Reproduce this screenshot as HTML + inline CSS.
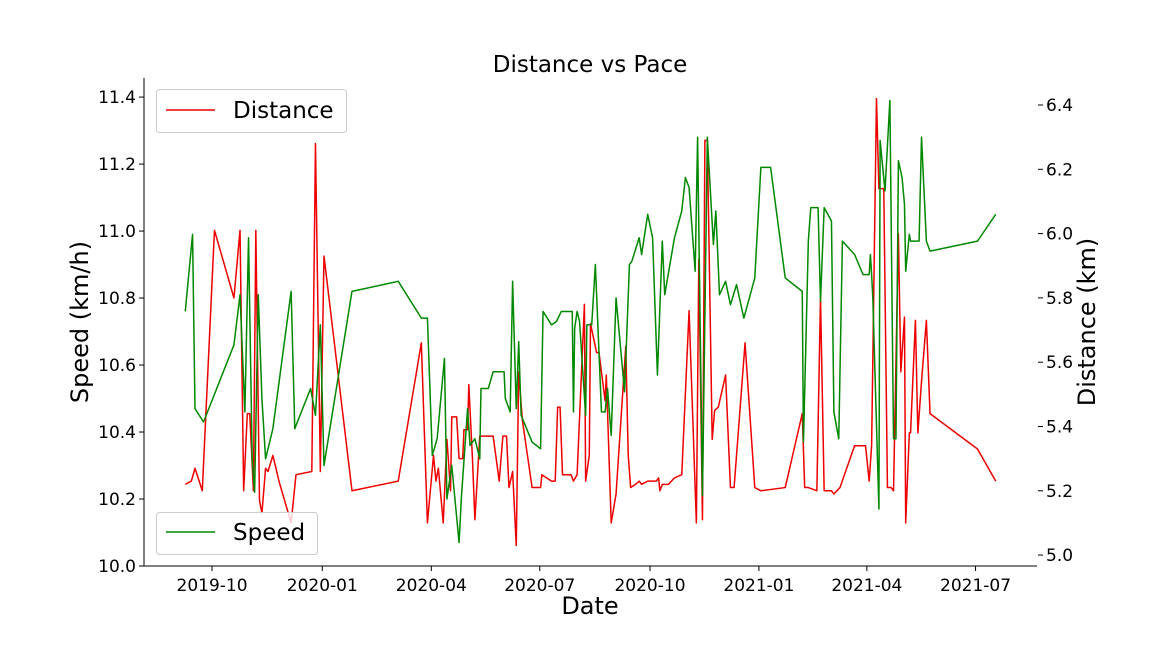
<!DOCTYPE html>
<html><head><meta charset="utf-8"><style>
body{margin:0;background:#fff}
svg text{font-family:"DejaVu Sans","Liberation Sans",sans-serif}
</style></head><body>
<svg id="c" width="1152" height="648" xmlns="http://www.w3.org/2000/svg">
<text x="590" y="72" font-size="23" text-anchor="middle">Distance vs Pace</text>
<text x="590" y="614" font-size="24" text-anchor="middle">Date</text>
<text transform="translate(88,322) rotate(-90)" font-size="24" text-anchor="middle">Speed (km/h)</text>
<text transform="translate(1095,322) rotate(-90)" font-size="24" text-anchor="middle">Distance (km)</text>
<g id="axes"></g>
<g id="series"></g>
<g>
<rect x="156.5" y="89.5" width="190" height="43" rx="3" fill="#fff" fill-opacity="0.8" stroke="#ccc"/>
<line x1="166" y1="110" x2="215" y2="110" stroke="#e00" stroke-width="1.5"/>
<text x="233" y="118" font-size="23">Distance</text>
</g>
<g>
<rect x="156.5" y="512.5" width="161" height="42" rx="3" fill="#fff" fill-opacity="0.8" stroke="#ccc"/>
<line x1="166" y1="532" x2="215" y2="532" stroke="#080" stroke-width="1.5"/>
<text x="233" y="540" font-size="23">Speed</text>
</g>
</svg>
<script>
const speedDays=[-22,-16,-14,-7,18,23,27,30,33,35,38,41,44,50,65,68,81,85,89,92,115,153,172,177,181,185,191,193,197,203,205,210,212,216,220,221,227,231,240,241,245,247,250,252,254,263,270,272,279,283,287,296,297,298,300,302,307,308,312,315,320,323,325,328,332,339,343,345,351,353,358,362,366,370,372,380,386,389,392,397,399,403,407,412,414,417,422,426,431,437,446,451,459,471,485,486,490,492,498,500,503,509,511,515,518,528,535,540,541,542,543,548,549,553,557,560,562,564,567,569,570,573,574,581,583,587,590,629,644];
const speedValues=[10.76,10.99,10.47,10.43,10.66,10.81,10.46,10.98,10.32,10.22,10.81,10.50,10.32,10.41,10.82,10.41,10.53,10.45,10.72,10.30,10.82,10.85,10.74,10.74,10.33,10.38,10.62,10.20,10.30,10.07,10.21,10.47,10.36,10.38,10.32,10.53,10.53,10.58,10.58,10.50,10.46,10.85,10.47,10.67,10.45,10.37,10.35,10.76,10.72,10.73,10.76,10.76,10.46,10.71,10.76,10.73,10.45,10.72,10.72,10.90,10.46,10.46,10.53,10.39,10.80,10.52,10.90,10.91,10.98,10.93,11.05,10.98,10.57,10.97,10.81,10.98,11.06,11.16,11.13,10.88,11.28,10.21,11.28,10.96,11.06,10.81,10.85,10.78,10.84,10.74,10.86,11.19,11.19,10.86,10.82,10.37,10.97,11.07,11.07,10.79,11.07,11.03,10.46,10.38,10.97,10.93,10.87,10.87,10.93,10.87,10.80,10.17,11.27,11.12,11.39,10.38,10.38,11.21,11.16,11.08,10.88,10.99,10.97,10.97,11.28,10.97,10.94,10.97,11.05];
const distDays=[-22,-17,-14,-8,2,18,23,26,29,31,34,36,39,41,44,46,50,55,65,69,82,85,89,92,115,153,172,177,182,184,186,190,193,196,197,201,203,206,207,210,211,214,216,220,223,231,236,239,242,244,247,250,252,255,263,270,271,279,282,284,286,288,295,297,300,306,307,310,311,316,318,323,324,328,332,340,342,344,348,351,353,358,361,365,367,368,370,371,375,380,386,392,398,400,403,405,407,411,413,416,422,426,429,438,446,451,471,485,487,490,497,500,503,509,511,516,528,537,540,542,546,548,552,555,558,560,564,566,569,570,573,574,578,580,583,587,590,629,644];
const distValues=[5.22,5.23,5.27,5.20,6.01,5.80,6.01,5.20,5.44,5.44,5.20,6.01,5.17,5.13,5.27,5.26,5.31,5.23,5.10,5.25,5.26,6.28,5.26,5.93,5.20,5.23,5.66,5.10,5.31,5.23,5.27,5.10,5.36,5.20,5.43,5.43,5.30,5.30,5.39,5.39,5.53,5.30,5.11,5.37,5.37,5.37,5.23,5.37,5.37,5.21,5.26,5.03,5.57,5.42,5.21,5.21,5.25,5.23,5.23,5.46,5.46,5.25,5.25,5.23,5.25,5.78,5.23,5.31,5.72,5.63,5.63,5.48,5.56,5.10,5.19,5.65,5.31,5.21,5.22,5.23,5.22,5.23,5.23,5.23,5.24,5.20,5.22,5.22,5.22,5.24,5.25,5.76,5.10,5.92,5.11,6.29,6.29,5.36,5.45,5.46,5.56,5.21,5.21,5.66,5.21,5.20,5.21,5.44,5.21,5.21,5.20,5.80,5.20,5.20,5.19,5.21,5.34,5.34,5.23,5.34,6.42,6.14,6.14,5.21,5.21,5.20,6.00,5.57,5.74,5.10,5.38,5.38,5.73,5.38,5.54,5.73,5.44,5.33,5.23];
const xTickDays=[0,90.6,180.2,269.3,359.9,449.4,538.1,627.4];
const xTickLabels=["2019-10","2020-01","2020-04","2020-07","2020-10","2021-01","2021-04","2021-07"];
const leftTicks=[10.0,10.2,10.4,10.6,10.8,11.0,11.2,11.4];
const rightTicks=[5.0,5.2,5.4,5.6,5.8,6.0,6.2,6.4];

const NS="http://www.w3.org/2000/svg";
const L=144,R=1037,T=78,B=566;
const X=d=>L+(d-(-55.9))/(677.9-(-55.9))*(R-L);
const YL=v=>B-(v-10)/(11.457-10)*(B-T);
const YR=v=>B-(v-4.966)/(6.484-4.966)*(B-T);
function mk(tag,attrs,parent){const e=document.createElementNS(NS,tag);for(const k in attrs)e.setAttribute(k,attrs[k]);parent.appendChild(e);return e;}
const ax=document.getElementById('axes'),se=document.getElementById('series');
let e=mk('line',{x1:L,y1:T,x2:L,y2:B,stroke:'#000','stroke-width':1},ax);


e=mk('line',{x1:L,y1:B,x2:R,y2:B,stroke:'#000','stroke-width':1},ax);


xTickDays.forEach((d,i)=>{const x=X(d);
 mk('line',{x1:x,y1:B,x2:x,y2:B+5,stroke:'#000'},ax);
 const t=mk('text',{x:x,y:B+25,'font-size':17,'text-anchor':'middle'},ax);t.textContent=xTickLabels[i];
 
 });
leftTicks.forEach(v=>{const y=YL(v);
 mk('line',{x1:L-5,y1:y,x2:L,y2:y,stroke:'#000'},ax);
 const t=mk('text',{x:L-8,y:y+6,'font-size':17,'text-anchor':'end'},ax);t.textContent=v.toFixed(1);
 
 });
rightTicks.forEach(v=>{const y=YR(v);
 mk('line',{x1:1038,y1:y,x2:1043,y2:y,stroke:'#000'},ax);
 const t=mk('text',{x:1046,y:y+6,'font-size':17,'text-anchor':'start'},ax);t.textContent=v.toFixed(1);
 
 });
let p=mk('polyline',{points:distDays.map((d,i)=>X(d)+','+YR(distValues[i])).join(' '),fill:'none',stroke:'#e00','stroke-width':1.5,'stroke-linejoin':'round'},se);


p=mk('polyline',{points:speedDays.map((d,i)=>X(d)+','+YL(speedValues[i])).join(' '),fill:'none',stroke:'#080','stroke-width':1.5,'stroke-linejoin':'round'},se);


</script>
</body></html>
